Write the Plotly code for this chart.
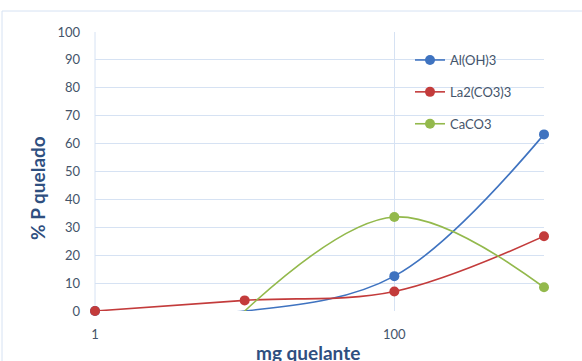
import plotly.graph_objects as go

doses = [1, 10, 100, 1000]
al_oh3 = [0, 0, 12.5, 63.3]
la2co3 = [0, 3.8, 7.0, 26.8]
caco3 = [None, 0, 33.7, 8.5]
series_names = ["Al(OH)3", "La2(CO3)3", "CaCO3"]
x_tick_vals = [1, 100]
x_tick_text = ["1", "100"]
y_ticks = list(range(0, 101, 10))

colors = ["#3F73C0", "#C33B3B", "#93B94C"]
# which points show a marker in the reference
marker_shown = [
    [True, False, True, True],
    [True, True, True, True],
    [False, False, True, True],
]

L, R, T, B = 95, 544, 32, 311
W, H = 582, 361

fig = go.Figure()
series = [al_oh3, la2co3, caco3]
for name, ys, c in zip(series_names, series, colors):
    fig.add_trace(go.Scatter(
        x=doses, y=ys, mode="lines", showlegend=False, hoverinfo="skip",
        line=dict(color=c, width=1.6, shape="spline", smoothing=1.0),
        cliponaxis=False, connectgaps=False,
    ))
for name, ys, c, shown in zip(series_names, series, colors, marker_shown):
    xs = [x for x, s in zip(doses, shown) if s]
    yv = [y for y, s in zip(ys, shown) if s]
    fig.add_trace(go.Scatter(
        x=xs, y=yv, mode="markers", showlegend=False, name=name,
        marker=dict(color=c, size=10), cliponaxis=False,
    ))
for name, c in zip(series_names, colors):
    fig.add_trace(go.Scatter(
        x=[None], y=[None], mode="lines+markers", name=name,
        line=dict(color=c, width=1.6), marker=dict(color=c, size=10),
        legendgroup=name,
    ))

pw = R - L
ph = B - T

def px2x(p):
    return (p - L) / pw

def py2y(p):
    return (B - p) / ph

fig.update_layout(
    width=W, height=H,
    margin=dict(l=L, r=W - R, t=T, b=H - B),
    paper_bgcolor="white", plot_bgcolor="white",
    font=dict(family="Lato, Open Sans, sans-serif", color="#44546A", size=13),
    showlegend=True,
    legend=dict(
        x=px2x(410), y=py2y(45), xanchor="left", yanchor="top",
        bgcolor="rgba(0,0,0,0)", font=dict(size=13, color="#44546A"),
        tracegroupgap=12, itemwidth=30,
    ),
    xaxis=dict(
        type="log", range=[0, 3],
        tickvals=x_tick_vals, ticktext=x_tick_text,
        showgrid=True, gridcolor="#D6E2F3", gridwidth=1,
        showline=False, zeroline=False, ticks="",
        tickfont=dict(size=13, color="#44546A"),
        ticklabelstandoff=14,
    ),
    yaxis=dict(
        range=[0, 100], tickvals=y_ticks,
        showgrid=True, gridcolor="#D6E2F3", gridwidth=1,
        showline=False, zeroline=False, ticks="",
        tickfont=dict(size=13, color="#44546A"),
        ticklabelstandoff=14,
    ),
    annotations=[
        dict(text="<b>% P quelado</b>", textangle=-90, xref="paper", yref="paper",
             x=px2x(38), y=py2y(188), showarrow=False,
             xanchor="center", yanchor="middle",
             font=dict(size=19, color="#2F4F7F")),
        dict(text="<b>mg quelante</b>", xref="paper", yref="paper",
             x=px2x(308), y=py2y(352), showarrow=False,
             xanchor="center", yanchor="middle",
             font=dict(size=19, color="#2F4F7F")),
    ],
    shapes=[
        dict(type="rect", xref="paper", yref="paper",
             x0=px2x(2), x1=px2x(W + 5), y0=py2y(H + 5), y1=py2y(11),
             line=dict(color="#D6E2F3", width=1), layer="below"),
        dict(type="line", xref="paper", yref="paper",
             x0=0, x1=0, y0=0, y1=1,
             line=dict(color="#D6E2F3", width=1), layer="below"),
    ],
)

fig.write_html(
    "out.html",
    config={"displayModeBar": False},
    post_script="document.body.style.margin='0';document.body.style.overflow='hidden';",
)
